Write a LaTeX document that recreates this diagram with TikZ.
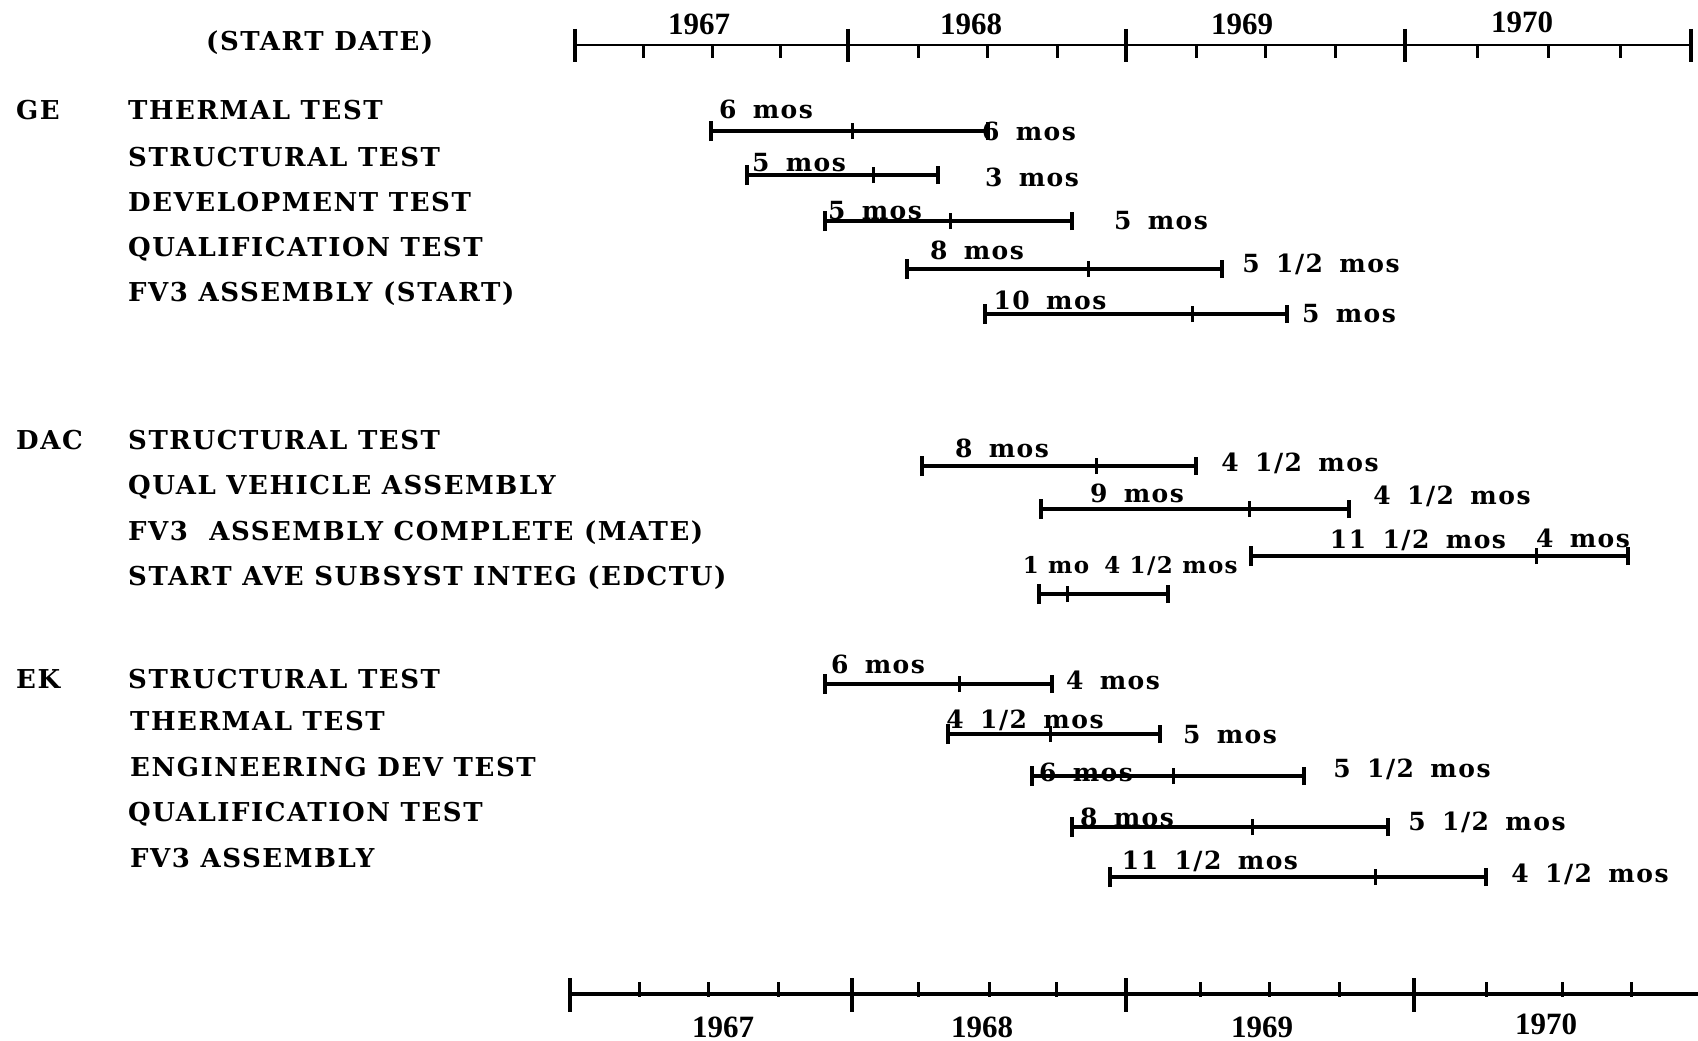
\documentclass[tikz,border=0pt]{standalone}
\usepackage{fontspec}
\newfontfamily\lblfont{DejaVu Serif}[LetterSpace=6,WordSpace=1.0]
\newfontfamily\durfont{DejaVu Serif}[LetterSpace=6.01,WordSpace=1.6]
\newfontfamily\yrfont{Liberation Serif}
\begin{document}
\begin{tikzpicture}[x=1pt,y=-1pt,
  rowlab/.style={anchor=west, inner sep=0pt, font=\lblfont\bfseries\fontsize{26}{29}\selectfont, text height=19pt, text depth=0pt},
  durlab/.style={inner sep=0pt, font=\durfont\bfseries\fontsize{25}{28}\selectfont, text height=18pt, text depth=0pt},
  smalldur/.style={inner sep=0pt, font=\lblfont\bfseries\fontsize{23}{26}\selectfont, text height=17pt, text depth=0pt},
  yearlab/.style={inner sep=0pt, font=\yrfont\bfseries\fontsize{31}{34}\selectfont, text height=21pt, text depth=0pt},
  barline/.style={line width=3.2pt},
  sticks/.style={line width=4.2pt},
  mticks/.style={line width=3pt},
  topaxis/.style={line width=1.8pt},
  botaxis/.style={line width=4.5pt},
  majtick/.style={line width=4pt},
  mintick/.style={line width=3pt}]
\fill[white] (0,0) rectangle (1698,1041);
\useasboundingbox (0,0) rectangle (1698,1041);

% header
\node[rowlab] (hdr) at (206,41) {(START DATE)};

% top axis
\coordinate (tax-s) at (575,45);
\coordinate (tax-e) at (1691,45);
\draw[topaxis] (tax-s) -- (tax-e);
\foreach \x in {575,848,1126,1405,1691}
  \draw[majtick] (\x,29) -- (\x,62);
\foreach \x in {643,712,780,918,987,1057,1196,1265,1335,1477,1548,1620}
  \draw[mintick] (\x,45) -- (\x,58);
\node[yearlab] (ty67) at (699,24) {1967};
\node[yearlab] (ty68) at (971,24) {1968};
\node[yearlab] (ty69) at (1242,24) {1969};
\node[yearlab] (ty70) at (1522,22) {1970};

% group labels
\node[rowlab] (ge) at (16,110) {GE};
\node[rowlab] (dac) at (16,440) {DAC};
\node[rowlab] (ek) at (16,679) {EK};

% row labels
\node[rowlab] (r1) at (128,110) {THERMAL TEST};
\node[rowlab] (r2) at (128,157) {STRUCTURAL TEST};
\node[rowlab] (r3) at (128,202) {DEVELOPMENT TEST};
\node[rowlab] (r4) at (128,247) {QUALIFICATION TEST};
\node[rowlab] (r5) at (128,292) {FV3 ASSEMBLY (START)};
\node[rowlab] (r6) at (128,440) {STRUCTURAL TEST};
\node[rowlab] (r7) at (128,485) {QUAL VEHICLE ASSEMBLY};
\node[rowlab] (r8) at (128,531) {FV3 \ ASSEMBLY COMPLETE (MATE)};
\node[rowlab] (r9) at (128,576) {START AVE SUBSYST INTEG (EDCTU)};
\node[rowlab] (r10) at (128,679) {STRUCTURAL TEST};
\node[rowlab] (r11) at (130,721) {THERMAL TEST};
\node[rowlab] (r12) at (130,767) {ENGINEERING DEV TEST};
\node[rowlab] (r13) at (128,812) {QUALIFICATION TEST};
\node[rowlab] (r14) at (130,858) {FV3 ASSEMBLY};

% bars
\foreach \n/\y/\s/\m/\e in {ge1/131/711/852/988, ge2/175/747/873/938,
  ge3/221/825/950/1072, ge4/269/907/1088/1222, ge5/314/985/1192/1287,
  dac1/466/922/1096/1196, dac2/509/1041/1249/1349, dac3/556/1251/1536/1628,
  dac4/594/1039/1067/1168, ek1/684/825/959/1052, ek2/734/948/1050/1160,
  ek3/776/1032/1173/1304, ek4/827/1072/1252/1388, ek5/877/1110/1375/1486} {
  \coordinate (\n-s) at (\s,\y);
  \coordinate (\n-m) at (\m,\y);
  \coordinate (\n-e) at (\e,\y);
  \draw[barline] (\n-s) -- (\n-m) -- (\n-e);
  \draw[sticks] ([yshift=-10pt]\n-s) -- ([yshift=10pt]\n-s);
  \draw[mticks] ([yshift=-8pt]\n-m) -- ([yshift=8pt]\n-m);
  \draw[sticks] ([yshift=-9pt]\n-e) -- ([yshift=9pt]\n-e);
}

% duration labels
\node[durlab] (ge1a) at (766,109) {6 mos};
\node[durlab] (ge1b) at (1029,131) {6 mos};
\node[durlab] (ge2a) at (799,162) {5 mos};
\node[durlab] (ge2b) at (1032,177) {3 mos};
\node[durlab] (ge3a) at (875,210) {5 mos};
\node[durlab] (ge3b) at (1161,220) {5 mos};
\node[durlab] (ge4a) at (977,250) {8 mos};
\node[durlab] (ge4b) at (1321,263) {5 1/2 mos};
\node[durlab] (ge5a) at (1050,300) {10 mos};
\node[durlab] (ge5b) at (1349,313) {5 mos};
\node[durlab] (dac1a) at (1002,448) {8 mos};
\node[durlab] (dac1b) at (1300,462) {4 1/2 mos};
\node[durlab] (dac2a) at (1137,493) {9 mos};
\node[durlab] (dac2b) at (1452,495) {4 1/2 mos};
\node[durlab] (dac3a) at (1418,539) {11 1/2 mos};
\node[durlab] (dac3b) at (1583,538) {4 mos};
\node[smalldur] (dac4a) at (1056,565) {1 mo};
\node[smalldur] (dac4b) at (1171,565) {4 1/2 mos};
\node[durlab] (ek1a) at (878,664) {6 mos};
\node[durlab] (ek1b) at (1113,680) {4 mos};
\node[durlab] (ek2a) at (1025,719) {4 1/2 mos};
\node[durlab] (ek2b) at (1230,734) {5 mos};
\node[durlab] (ek3a) at (1086,772) {6 mos};
\node[durlab] (ek3b) at (1412,768) {5 1/2 mos};
\node[durlab] (ek4a) at (1127,817) {8 mos};
\node[durlab] (ek4b) at (1487,821) {5 1/2 mos};
\node[durlab] (ek5a) at (1210,860) {11 1/2 mos};
\node[durlab] (ek5b) at (1590,873) {4 1/2 mos};

% bottom axis
\coordinate (bax-s) at (568,994);
\coordinate (bax-e) at (1698,994);
\draw[botaxis] (bax-s) -- (bax-e);
\foreach \x in {570,852,1126,1414}
  \draw[majtick] (\x,978) -- (\x,1012);
\foreach \x in {639,708,778,918,989,1056,1200,1269,1339,1486,1562,1631}
  \draw[mintick] (\x,982) -- (\x,997);
\node[yearlab] (by67) at (723,1027) {1967};
\node[yearlab] (by68) at (982,1027) {1968};
\node[yearlab] (by69) at (1262,1027) {1969};
\node[yearlab] (by70) at (1546,1024) {1970};
\end{tikzpicture}
\end{document}
